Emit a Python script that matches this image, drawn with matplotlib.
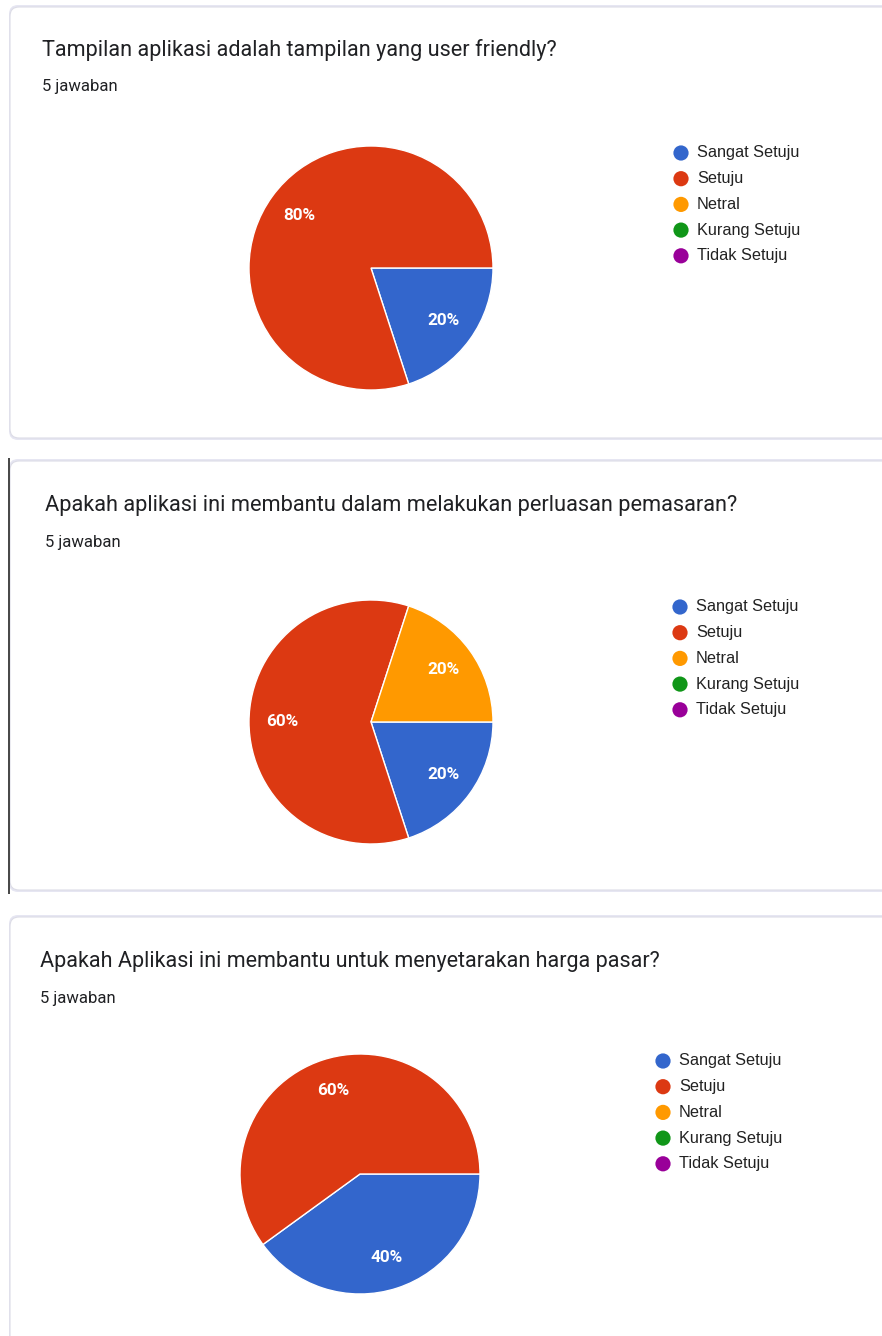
import matplotlib
matplotlib.use("Agg")
import matplotlib.pyplot as plt
from matplotlib.patches import FancyBboxPatch, Rectangle

# survey answers (5 respondents per question)
categories = ["Sangat Setuju", "Setuju", "Netral", "Kurang Setuju", "Tidak Setuju"]
colors = ["#3366cc", "#dc3912", "#ff9900", "#109618", "#990099"]

titles = [
    "Tampilan aplikasi adalah tampilan yang user friendly?",
    "Apakah aplikasi ini membantu dalam melakukan perluasan pemasaran?",
    "Apakah Aplikasi ini membantu untuk menyetarakan harga pasar?",
]
subtitle = "5 jawaban"
q1_counts = [1, 4, 0, 0, 0]
q2_counts = [1, 3, 1, 0, 0]
q3_counts = [2, 3, 0, 0, 0]
all_counts = [q1_counts, q2_counts, q3_counts]

W, H = 882, 1336
fig = plt.figure(figsize=(W / 100, H / 100), dpi=100)
fig.patch.set_facecolor("white")

bg = fig.add_axes([0, 0, 1, 1])
bg.set_xlim(0, W)
bg.set_ylim(H, 0)
bg.axis("off")

# layout of each card (pixels): card top, card bottom, title x, title y, title size,
# pie centre x, centre y, radius, legend x, legend first row y
cards = [
    dict(top=6, bot=438, tx=42, ty=50, ts=15.6, cx=371, cy=268, r=122, lx=681, ly=153),
    dict(top=460, bot=890, tx=45, ty=505, ts=15.7, cx=371, cy=722, r=122, lx=680, ly=607),
    dict(top=916, bot=1360, tx=40, ty=962, ts=15.5, cx=360, cy=1174, r=120, lx=663, ly=1061),
]

for i, c in enumerate(cards):
    # shadow + card
    bg.add_patch(FancyBboxPatch((9, c["top"] - 1), 900, c["bot"] - c["top"] + 3,
                                boxstyle="round,pad=0,rounding_size=9",
                                facecolor="#e6e6f2", edgecolor="none", zorder=1))
    bg.add_patch(FancyBboxPatch((10, c["top"] + 1), 900, c["bot"] - c["top"] - 1,
                                boxstyle="round,pad=0,rounding_size=9",
                                facecolor="white", edgecolor="#dcdce6", linewidth=0.8, zorder=2))
    if i == 1:
        bg.add_patch(Rectangle((7.5, c["top"] - 2), 2.5, c["bot"] - c["top"] + 6,
                               facecolor="#4a4a4a", edgecolor="none", zorder=3))

    bg.text(c["tx"], c["ty"], titles[i], fontsize=c["ts"], family="Roboto",
            color="#202124", va="center", ha="left", zorder=4)
    bg.text(c["tx"], c["ty"] + 37, subtitle, fontsize=12, family="Roboto",
            color="#202124", va="center", ha="left", zorder=4)

    # legend
    for k, name in enumerate(categories):
        yy = c["ly"] + k * 25.7
        bg.scatter([c["lx"]], [yy], s=120, color=colors[k], edgecolors="none", zorder=4)
        bg.text(c["lx"] + 16, yy, name, fontsize=11.7, family="Liberation Sans",
                color="#222222", va="center", ha="left", zorder=4)

    # pie
    r = c["r"]
    ax = fig.add_axes([(c["cx"] - r) / W, 1 - (c["cy"] + r) / H, 2 * r / W, 2 * r / H])
    ax.set_zorder(5)
    counts = all_counts[i]
    vals = [v for v in counts if v > 0]
    cols = [colors[k] for k, v in enumerate(counts) if v > 0]
    wedges, texts, autotexts = ax.pie(
        vals, colors=cols, startangle=0, counterclock=False,
        autopct=lambda p: f"{p:.0f}%", pctdistance=0.73,
        wedgeprops=dict(edgecolor="white", linewidth=1.0),
        textprops=dict(color="white", fontsize=12.3, fontweight="semibold",
                       family="Roboto"))
    ax.set_xlim(-1, 1)
    ax.set_ylim(-1, 1)
    ax.set_aspect("equal")

fig.savefig("out.png", dpi=100)
